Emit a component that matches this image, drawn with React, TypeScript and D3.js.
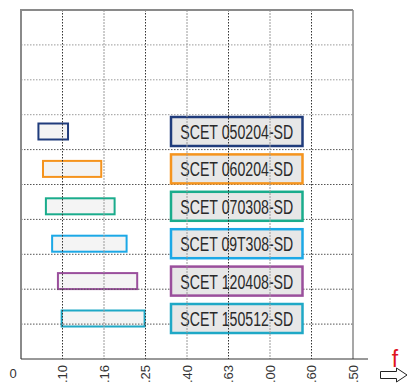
import React from "react";
import * as d3 from "d3";

const tickLabels = ["0", "0.10", "0.16", "0.25", "0.40", "0.63", "1.00", "1.60", "2.50"];
const tickValues = [0, 0.1, 0.16, 0.25, 0.4, 0.63, 1.0, 1.6, 2.5];
const seriesNames = ["SCET 050204-SD", "SCET 060204-SD", "SCET 070308-SD", "SCET 09T308-SD", "SCET 120408-SD", "SCET 150512-SD"];
const seriesColors = ["#203c7c", "#f5941e", "#1aac8c", "#1ca8e6", "#9a4f9c", "#1fa8c6"];
const rangeStart = [0.042, 0.053, 0.06, 0.075, 0.089, 0.098];
const rangeEnd = [0.108, 0.156, 0.183, 0.209, 0.232, 0.248];
const gridRows = d3.range(0, 11);

export default function App() {
  const W = 408, H = 383;
  const left = 21, right = 353, top = 10, bottom = 359;
  const xPoint = d3.scalePoint<string>().domain(tickLabels).range([left, right]);
  const x = d3.scaleLinear().domain(tickValues).range(tickLabels.map((t) => xPoint(t) as number));
  const yGrid = d3.scaleLinear().domain([0, 10]).range([bottom, top]);
  const yRow = d3.scalePoint<string>().domain(seriesNames).range([131.5, 318.5]);
  const barH = 16, labH = 29;
  const labX0 = 171, labX1 = 302.5;

  return (
    <svg width={W} height={H} style={{ position: "absolute", left: 0, top: 0 }}>
      <rect x={0} y={0} width={W} height={H} fill="#fff" />
      {/* bars */}
      {seriesNames.map((n, i) => (
        <rect key={"b" + n} x={x(rangeStart[i])} y={(yRow(n) as number) - barH / 2}
          width={x(rangeEnd[i]) - x(rangeStart[i])} height={barH}
          fill="#f4f4f4" stroke={seriesColors[i]} strokeWidth={2} />
      ))}
      {/* horizontal grid */}
      {gridRows.slice(1, 10).map((r) => (
        <line key={"h" + r} x1={left} x2={right} y1={yGrid(r)} y2={yGrid(r)}
          stroke={r >= 7 ? "#9a9a9a" : "#555"} strokeWidth={1} strokeDasharray="1.5,1.5" />
      ))}
      {/* label boxes */}
      {seriesNames.map((n, i) => {
        const cy = yRow(n) as number;
        return (
          <g key={"l" + n}>
            <rect x={labX0} y={cy - labH / 2} width={labX1 - labX0} height={labH}
              fill="#e7e7e7" stroke={seriesColors[i]} strokeWidth={2.5} />
            <text x={(labX0 + labX1) / 2} y={cy + 7.5} textAnchor="middle"
              fontFamily="'Liberation Sans Narrow', 'Arial Narrow', 'Liberation Sans', sans-serif"
              fontSize={20} fill="#2a2a2a" textLength={113} lengthAdjust="spacingAndGlyphs">{n}</text>
          </g>
        );
      })}
      {/* vertical grid */}
      {tickLabels.slice(1, 8).map((t, i) => (
        <line key={"v" + t} x1={xPoint(t)} x2={xPoint(t)} y1={top} y2={bottom}
          stroke={i % 2 === 0 ? "#333" : "#9a9a9a"} strokeWidth={1}
          strokeDasharray={i % 2 === 0 ? "1.5,1.5" : "2,1"} />
      ))}
      {/* frame */}
      <line x1={left} x2={right} y1={top} y2={top} stroke="#8a8a8a" strokeWidth={2} />
      <line x1={right} x2={right} y1={top} y2={bottom} stroke="#8a8a8a" strokeWidth={1.5} />
      <line x1={left} x2={left} y1={top - 1} y2={bottom} stroke="#8a8a8a" strokeWidth={2} />
      <line x1={left} x2={368} y1={bottom} y2={bottom} stroke="#333" strokeWidth={1} />
      {/* tick labels */}
      <text x={13} y={378} textAnchor="middle" fontFamily="'Liberation Sans', Arial, sans-serif" fontSize={13} fill="#333">{tickLabels[0]}</text>
      {tickLabels.slice(1).map((t) => (
        <text key={"t" + t} transform={`translate(${(xPoint(t) as number) + 4.5},365) rotate(-90)`}
          textAnchor="end" fontFamily="'Liberation Sans', Arial, sans-serif" fontSize={13} fill="#333">{t}</text>
      ))}
      {/* f arrow */}
      <text x={395} y={367} textAnchor="middle" fontFamily="'Liberation Sans', Arial, sans-serif" fontSize={23} fill="#e0141e">f</text>
      <path d="M380.5,371.5 H396.5 V368 L407,375 L396.5,382 V378.5 H380.5 Z" fill="#fff" stroke="#222" strokeWidth={1} />
    </svg>
  );
}
